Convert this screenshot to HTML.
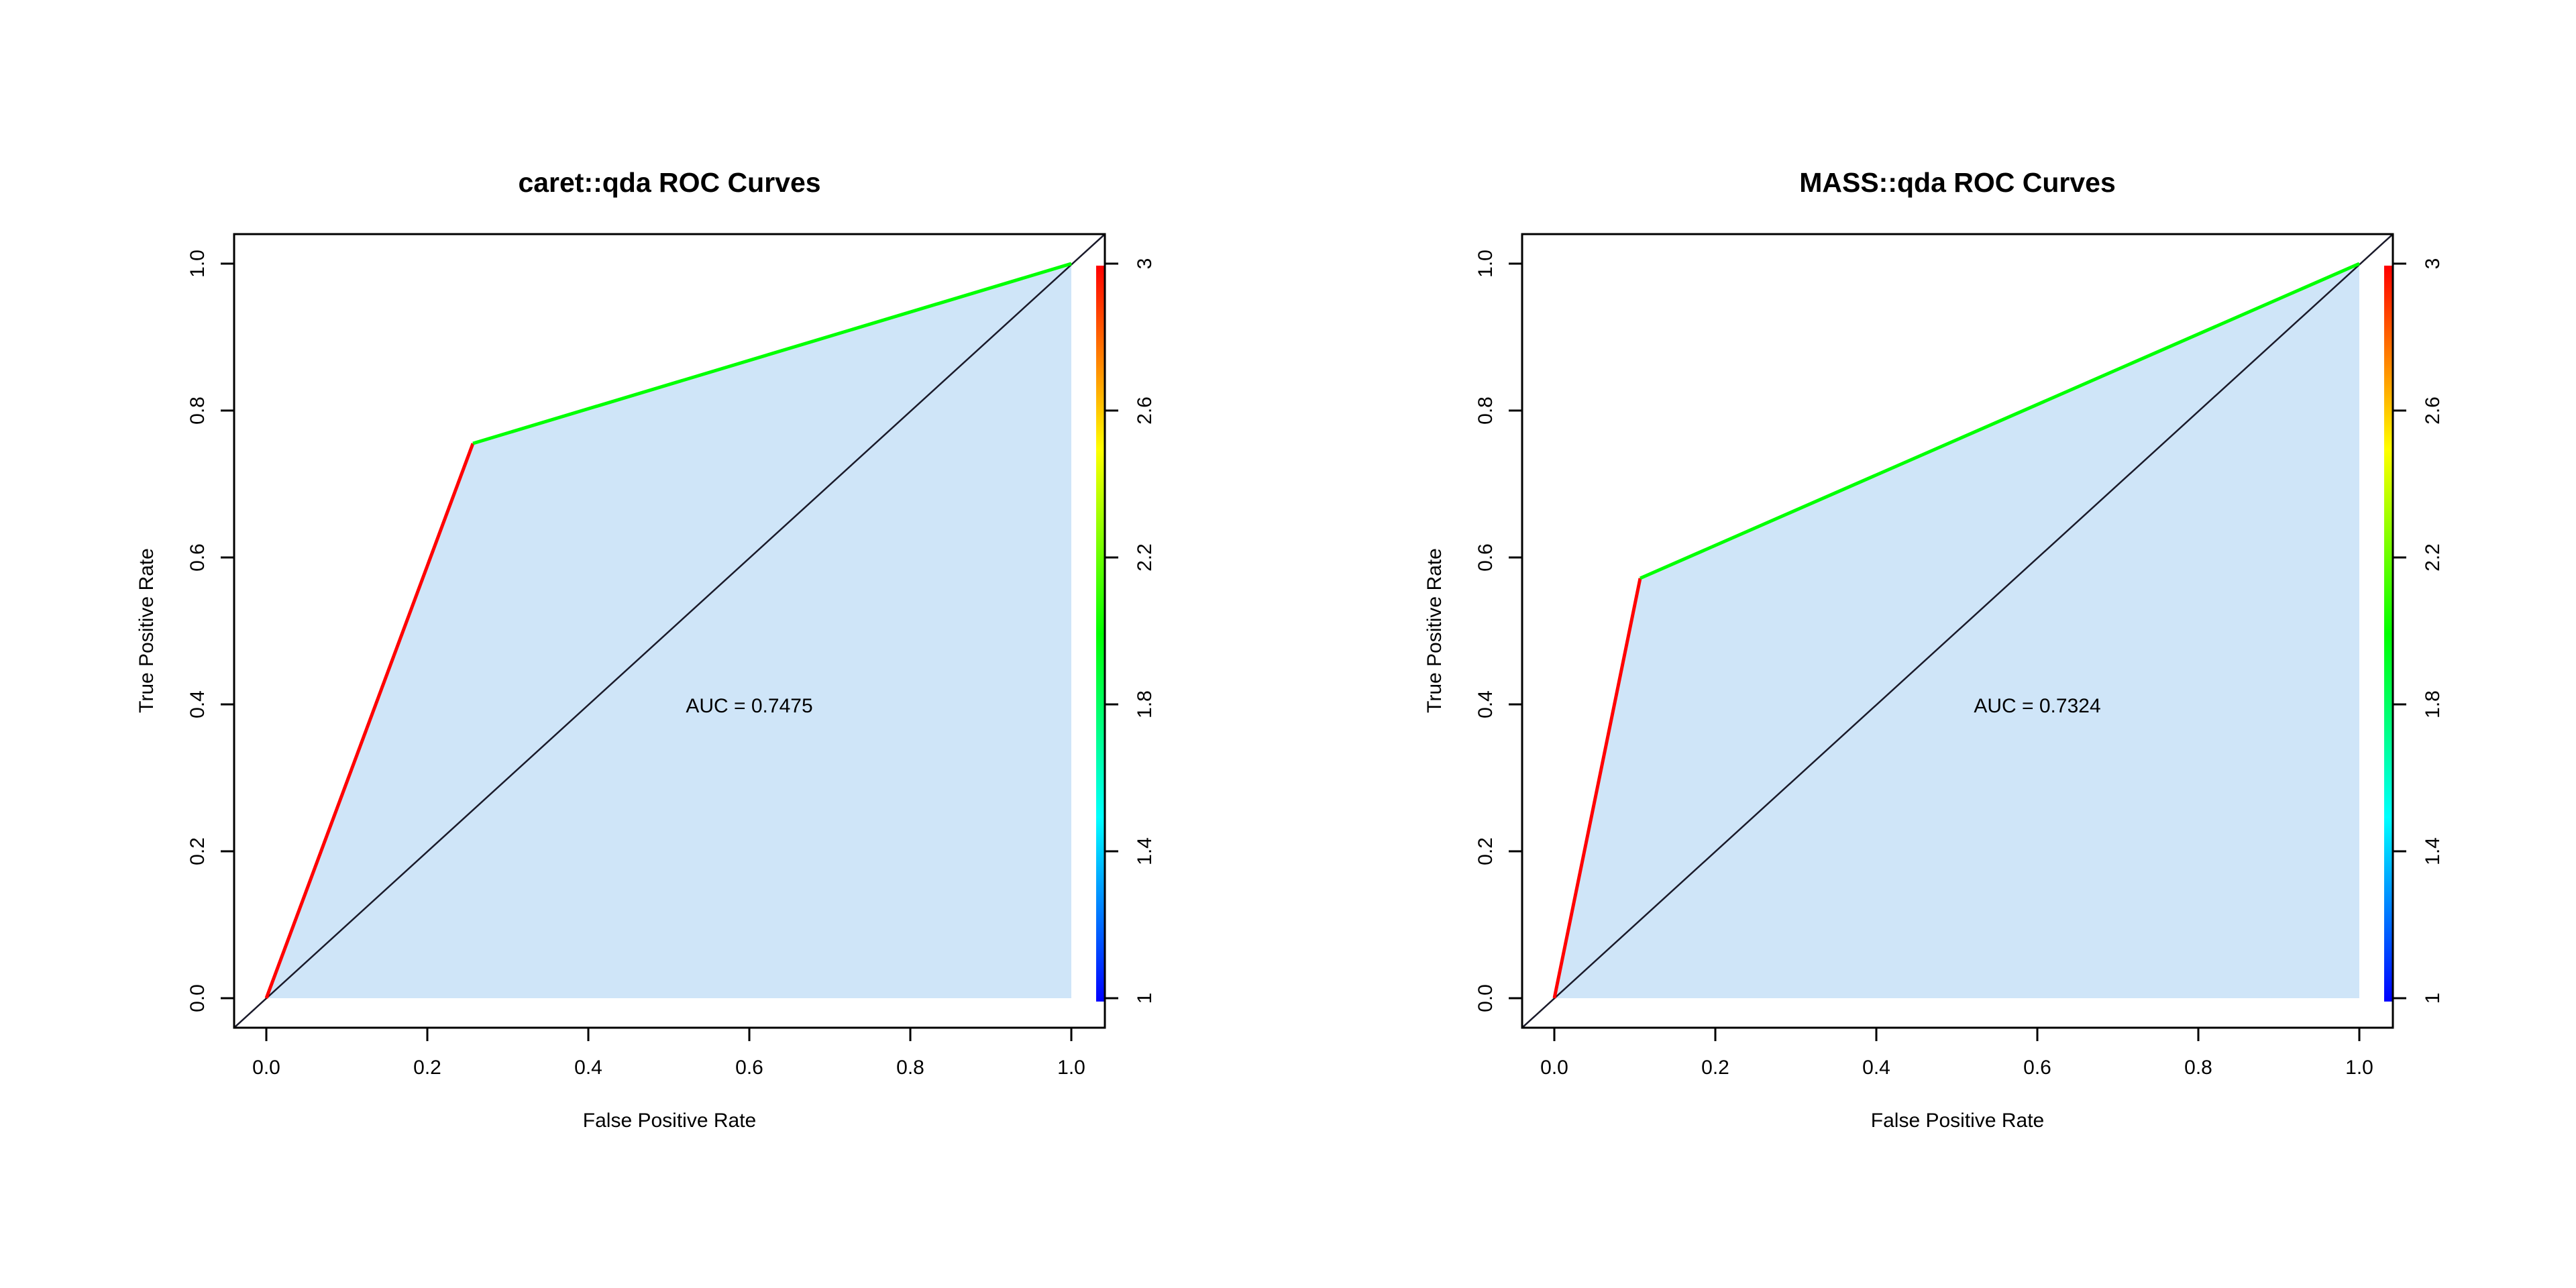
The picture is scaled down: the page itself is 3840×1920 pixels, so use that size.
<!DOCTYPE html>
<html><head><meta charset="utf-8"><style>html,body{margin:0;padding:0;background:#fff}svg{display:block}</style></head>
<body>
<svg xmlns="http://www.w3.org/2000/svg" width="3840" height="1920" viewBox="0 0 3840 1920" font-family="Liberation Sans, Arial, sans-serif">
<defs>
<linearGradient id="cb" x1="0" y1="1" x2="0" y2="0">
<stop offset="0" stop-color="#0000ff"/>
<stop offset="0.25" stop-color="#00ffff"/>
<stop offset="0.5" stop-color="#00ff00"/>
<stop offset="0.75" stop-color="#ffff00"/>
<stop offset="1" stop-color="#ff0000"/>
</linearGradient>
<clipPath id="bx"><rect x="349" y="349" width="1298" height="1183"/></clipPath>
<g id="axes">
<g font-size="30" fill="#000">
<line x1="397" y1="1532" x2="397" y2="1552" stroke="#000" stroke-width="3"/>
<line x1="637" y1="1532" x2="637" y2="1552" stroke="#000" stroke-width="3"/>
<line x1="877" y1="1532" x2="877" y2="1552" stroke="#000" stroke-width="3"/>
<line x1="1117" y1="1532" x2="1117" y2="1552" stroke="#000" stroke-width="3"/>
<line x1="1357" y1="1532" x2="1357" y2="1552" stroke="#000" stroke-width="3"/>
<line x1="1597" y1="1532" x2="1597" y2="1552" stroke="#000" stroke-width="3"/>
<text x="397" y="1601" text-anchor="middle">0.0</text>
<text x="637" y="1601" text-anchor="middle">0.2</text>
<text x="877" y="1601" text-anchor="middle">0.4</text>
<text x="1117" y="1601" text-anchor="middle">0.6</text>
<text x="1357" y="1601" text-anchor="middle">0.8</text>
<text x="1597" y="1601" text-anchor="middle">1.0</text>
<line x1="329" y1="1488" x2="349" y2="1488" stroke="#000" stroke-width="3"/>
<line x1="329" y1="1269" x2="349" y2="1269" stroke="#000" stroke-width="3"/>
<line x1="329" y1="1050" x2="349" y2="1050" stroke="#000" stroke-width="3"/>
<line x1="329" y1="831" x2="349" y2="831" stroke="#000" stroke-width="3"/>
<line x1="329" y1="612" x2="349" y2="612" stroke="#000" stroke-width="3"/>
<line x1="329" y1="393" x2="349" y2="393" stroke="#000" stroke-width="3"/>
<text transform="translate(304,1488) rotate(-90)" text-anchor="middle">0.0</text>
<text transform="translate(304,1269) rotate(-90)" text-anchor="middle">0.2</text>
<text transform="translate(304,1050) rotate(-90)" text-anchor="middle">0.4</text>
<text transform="translate(304,831) rotate(-90)" text-anchor="middle">0.6</text>
<text transform="translate(304,612) rotate(-90)" text-anchor="middle">0.8</text>
<text transform="translate(304,393) rotate(-90)" text-anchor="middle">1.0</text>
<text x="998" y="1680" text-anchor="middle">False Positive Rate</text>
<text transform="translate(228,940) rotate(-90)" text-anchor="middle">True Positive Rate</text>
<rect x="1634" y="396" width="13" height="1097" fill="url(#cb)"/>
<line x1="1647" y1="1488" x2="1667" y2="1488" stroke="#000" stroke-width="3"/>
<line x1="1647" y1="1269" x2="1667" y2="1269" stroke="#000" stroke-width="3"/>
<line x1="1647" y1="1050" x2="1667" y2="1050" stroke="#000" stroke-width="3"/>
<line x1="1647" y1="831" x2="1667" y2="831" stroke="#000" stroke-width="3"/>
<line x1="1647" y1="612" x2="1667" y2="612" stroke="#000" stroke-width="3"/>
<line x1="1647" y1="393" x2="1667" y2="393" stroke="#000" stroke-width="3"/>
<text transform="translate(1716,1488) rotate(-90)" text-anchor="middle">1</text>
<text transform="translate(1716,1269) rotate(-90)" text-anchor="middle">1.4</text>
<text transform="translate(1716,1050) rotate(-90)" text-anchor="middle">1.8</text>
<text transform="translate(1716,831) rotate(-90)" text-anchor="middle">2.2</text>
<text transform="translate(1716,612) rotate(-90)" text-anchor="middle">2.6</text>
<text transform="translate(1716,393) rotate(-90)" text-anchor="middle">3</text>
</g>
</g>
</defs>

<g>
<polygon points="397,1488 705,661 1597,393 1597,1488" fill="#cfe5f8"/>
<line x1="349" y1="1532" x2="1647" y2="349" stroke="#1a1a2a" stroke-width="2.5" clip-path="url(#bx)"/>
<line x1="397" y1="1488" x2="705" y2="661" stroke="#ff0000" stroke-width="5"/>
<line x1="705" y1="661" x2="1597" y2="393" stroke="#00ff00" stroke-width="5"/>
<use href="#axes"/>
<rect x="349" y="349" width="1298" height="1183" fill="none" stroke="#000" stroke-width="3"/>
<text x="998" y="286" text-anchor="middle" font-size="41" font-weight="bold">caret::qda ROC Curves</text>
<text x="1117" y="1062" text-anchor="middle" font-size="30">AUC = 0.7475</text>
</g>

<g transform="translate(1920,0)">
<polygon points="397,1488 525,862 1597,393 1597,1488" fill="#cfe5f8"/>
<line x1="349" y1="1532" x2="1647" y2="349" stroke="#1a1a2a" stroke-width="2.5" clip-path="url(#bx)"/>
<line x1="397" y1="1488" x2="525" y2="862" stroke="#ff0000" stroke-width="5"/>
<line x1="525" y1="862" x2="1597" y2="393" stroke="#00ff00" stroke-width="5"/>
<use href="#axes"/>
<rect x="349" y="349" width="1298" height="1183" fill="none" stroke="#000" stroke-width="3"/>
<text x="998" y="286" text-anchor="middle" font-size="41" font-weight="bold">MASS::qda ROC Curves</text>
<text x="1117" y="1062" text-anchor="middle" font-size="30">AUC = 0.7324</text>
</g>
</svg>
</body></html>
